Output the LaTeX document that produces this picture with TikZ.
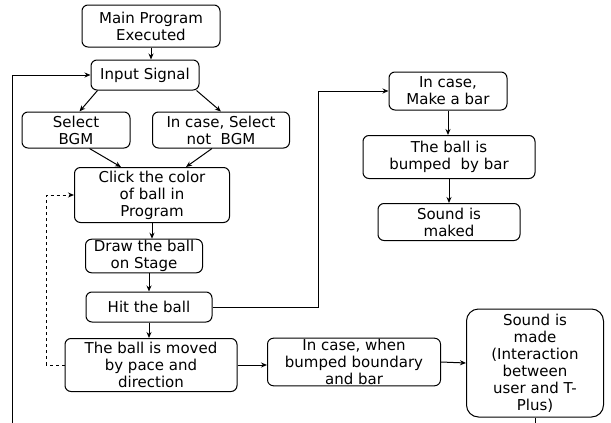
\documentclass[tikz,border=0pt]{standalone}
\usepackage{fontspec}
\setmainfont{DejaVu Sans}
\usetikzlibrary{arrows.meta}

\begin{document}
\begin{tikzpicture}[x=1pt,y=-1pt,line width=1pt,>={Stealth[length=6pt,width=5pt]},
  box/.style={draw,rounded corners=6pt,align=center,inner sep=1pt,
    font=\fontsize{15}{17}\selectfont}]
  \useasboundingbox (0,0) rectangle (611,423);
  % left column
  \node[box,minimum width=138,minimum height=42] (main) at (151,26) {Main Program\\Executed};
  \node[box,minimum width=108,minimum height=30] (input) at (145,75) {Input Signal};
  \node[box,minimum width=108,minimum height=36] (sel) at (76,130) {Select\\BGM};
  \node[box,minimum width=137,minimum height=36] (nosel) at (221,130) {In case, Select\\not\ \ BGM};
  \node[box,minimum width=155,minimum height=55] (click) at (152,195) {Click the color\\of ball in\\Program};
  \node[box,minimum width=117,minimum height=33] (stage) at (144,256) {Draw the ball\\on Stage};
  \node[box,minimum width=126,minimum height=30] (hit) at (149,307) {Hit the ball};
  \node[box,minimum width=172,minimum height=53] (moved) at (151,365) {The ball is moved\\by pace and\\direction};
  \node[box,minimum width=173,minimum height=44] (bump) at (354,362) {In case, when\\bumped boundary\\and bar};
  \node[box,rounded corners=12pt,minimum width=137,minimum height=108] (sound) at (535,363)
    {Sound is\\made\\(Interaction\\between\\user and T-\\Plus)};
  % right column
  \node[box,minimum width=118,minimum height=38] (bar) at (448,91) {In case,\\Make a bar};
  \node[box,minimum width=172,minimum height=43] (bybar) at (449,157) {The ball is\\bumped\ \ by bar};
  \node[box,minimum width=142,minimum height=37] (maked) at (449,222) {Sound is\\maked};
  \coordinate (lb) at (12,423);
  \coordinate (sb) at (535,423);

  \draw[->] (main.south) -- (main.south |- input.north);
  \draw[->] ([xshift=7]input.south west) -- ([xshift=58]sel.north west);
  \draw[->] ([xshift=-3]input.south east) -- ([xshift=69]nosel.north west);
  \draw[->] ([xshift=68]sel.south west) -- ([xshift=47]click.north west);
  \draw[->] ([xshift=60]nosel.south west) -- ([xshift=-44]click.north east);
  \draw[->] (click.south) -- (click.south |- stage.north);
  \draw[->] (hit.north |- stage.south) -- (hit.north);
  \draw[->] (hit.south) -- (hit.south |- moved.north);
  \draw[->] (moved.east) -- (moved.east -| bump.west);
  \draw[->] (bump.east) -- (sound.west);
  \draw[->,dashed] (moved.west) -- ++(-18,0) |- (click.west);
  \draw[->] (hit.east) -- ++(106,0) |- (bar.west);
  \draw[->] (bar.south) -- (bar.south |- bybar.north);
  \draw[->] (bybar.south) -- (bybar.south |- maked.north);
  \draw[->] (lb) |- (input.west);
  \draw (sound.south) -- (sb);
\end{tikzpicture}
\end{document}
